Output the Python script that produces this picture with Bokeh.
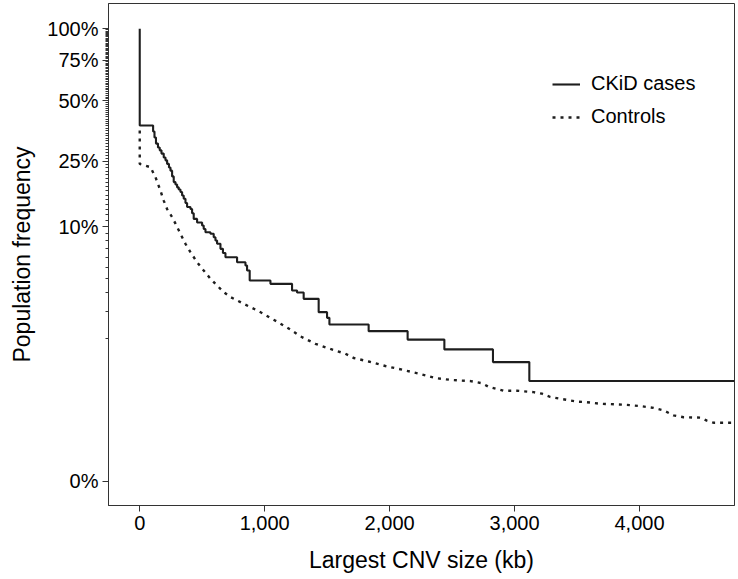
from bokeh.plotting import figure
from bokeh.models import (Range1d, FixedTicker, NumeralTickFormatter, CustomJSTickFormatter,
                          Legend, LegendItem, ColumnDataSource)
from bokeh.embed import file_html
from bokeh.resources import INLINE
import numpy as np

# ---- data ----
# CKiD cases: step function, x = largest CNV size (kb), value = population frequency (%)
ckid_x = [0, 0, 107, 118, 130, 146, 160, 174, 192, 206, 219, 234, 246, 259, 272, 286, 299,
          312, 326, 339, 352, 366, 379, 406, 419, 432, 459, 499, 512, 526, 566, 592, 606,
          619, 646, 666, 686, 779, 846, 859, 880, 1046, 1219, 1259, 1312, 1432, 1499, 1518,
          1832, 2144, 2438, 2827, 3118, 4760]
ckid_pct = [100, 38.2, 35.7, 33.3, 31.0, 29.6, 28.6, 27.5, 26.2, 25.3, 24.2, 23.1, 22.2, 20.6,
            19.1, 18.5, 17.8, 17.3, 16.7, 15.9, 15.2, 14.3, 13.5, 13.1, 12.3, 11.3, 10.7, 10.2,
            9.66, 9.18, 8.94, 8.46, 8.01, 7.58, 6.96, 6.47, 6.01, 5.49, 5.17, 4.71, 3.87, 3.62,
            3.16, 3.03, 2.64, 1.95, 1.70, 1.44, 1.21, 0.96, 0.72, 0.48, 0.24, 0.24]

# Controls
ctrl_x = [0, 0, 86, 126, 166, 192, 219, 259, 286, 326, 366, 406, 459, 512, 566, 619, 672, 726,
          779, 832, 886, 939, 992, 1046, 1099, 1152, 1206, 1286, 1406, 1526, 1646, 1712, 1832,
          1966, 2099, 2232, 2366, 2499, 2646, 2739, 2792, 2912, 3019, 3152, 3219, 3286, 3366,
          3499, 3579, 3686, 3819, 3899, 4006, 4112, 4192, 4272, 4352, 4486, 4539, 4592, 4760]
ctrl_pct = [36.1, 24.2, 23.2, 20.4, 17.0, 14.8, 13.1, 11.6, 10.5, 8.94, 7.58, 6.57, 5.49, 4.71,
            4.01, 3.50, 3.05, 2.74, 2.55, 2.36, 2.19, 2.03, 1.87, 1.69, 1.55, 1.40, 1.26, 1.05,
            0.85, 0.73, 0.63, 0.55, 0.49, 0.42, 0.37, 0.32, 0.27, 0.25, 0.24, 0.22, 0.19, 0.16,
            0.16, 0.15, 0.14, 0.12, 0.11, 0.096, 0.093, 0.086, 0.083, 0.081, 0.076, 0.069,
            0.060, 0.045, 0.040, 0.039, 0.032, 0.028, 0.028]

x_ticks = [0, 1000, 2000, 3000, 4000]
y_tick_pct = [0, 10, 25, 50, 75, 100]
series_labels = ["CKiD cases", "Controls"]

# fourth-root transformed y scale
def tr(pct):
    return (np.asarray(pct, dtype=float) / 100.0) ** 0.25

FONT = "Liberation Sans"
INK = "#1e1e1e"

p = figure(width=738, height=579, output_backend="svg", toolbar_location=None,
           x_range=Range1d(-250, 4760), y_range=Range1d(-0.0537, 1.0559),
           min_border_left=108, min_border_right=4, min_border_top=3, min_border_bottom=74)
p.xgrid.visible = False
p.ygrid.visible = False
p.outline_line_color = "#333333"
p.outline_line_width = 1
p.background_fill_color = "white"

src_c = ColumnDataSource(dict(x=ckid_x, y=tr(ckid_pct)))
src_k = ColumnDataSource(dict(x=ctrl_x, y=tr(ctrl_pct)))
r1 = p.step("x", "y", source=src_c, mode="after", line_color=INK, line_width=2.1)
r2 = p.line("x", "y", source=src_k, line_color=INK, line_width=2.4, line_dash="3 5")

# axes
minor_pct = [k for k in range(1, 100) if k not in y_tick_pct]
p.yaxis.ticker = FixedTicker(ticks=list(tr(y_tick_pct)), minor_ticks=list(tr(minor_pct)))
p.yaxis.formatter = CustomJSTickFormatter(
    code="return Math.round(Math.pow(tick, 4) * 100).toString() + '%';")
p.xaxis.ticker = FixedTicker(ticks=x_ticks)
p.xaxis.formatter = NumeralTickFormatter(format="0,0")

for ax in (p.xaxis, p.yaxis):
    ax.axis_line_color = "#333333"
    ax.axis_line_width = 1
    ax.major_tick_line_color = "#333333"
    ax.major_tick_line_width = 1
    ax.major_tick_out = 6
    ax.major_tick_in = 0
    ax.major_label_text_font = FONT
    ax.major_label_text_font_size = "20px"
    ax.major_label_text_color = "black"
    ax.major_label_standoff = 4
    ax.axis_label_text_font = FONT
    ax.axis_label_text_font_size = "23px"
    ax.axis_label_text_font_style = "normal"
    ax.axis_label_text_color = "black"
    ax.axis_label_standoff = 9

p.xaxis.axis_label_standoff = 14
p.xaxis.minor_tick_line_color = None
p.yaxis.minor_tick_line_color = "#333333"
p.yaxis.minor_tick_out = 3
p.yaxis.minor_tick_in = 0
p.xaxis.axis_label = "Largest CNV size (kb)"
p.yaxis.axis_label = "Population frequency"

legend = Legend(items=[LegendItem(label=series_labels[0], renderers=[r1]),
                       LegendItem(label=series_labels[1], renderers=[r2])],
                location=(444, 377), padding=0, margin=0, spacing=10,
                glyph_width=28, glyph_height=20, label_height=20, label_standoff=11,
                label_text_font=FONT, label_text_font_size="20px", label_text_color="black",
                border_line_color=None, background_fill_alpha=0)
p.add_layout(legend)

open("out.html", "w").write(file_html(p, INLINE))
